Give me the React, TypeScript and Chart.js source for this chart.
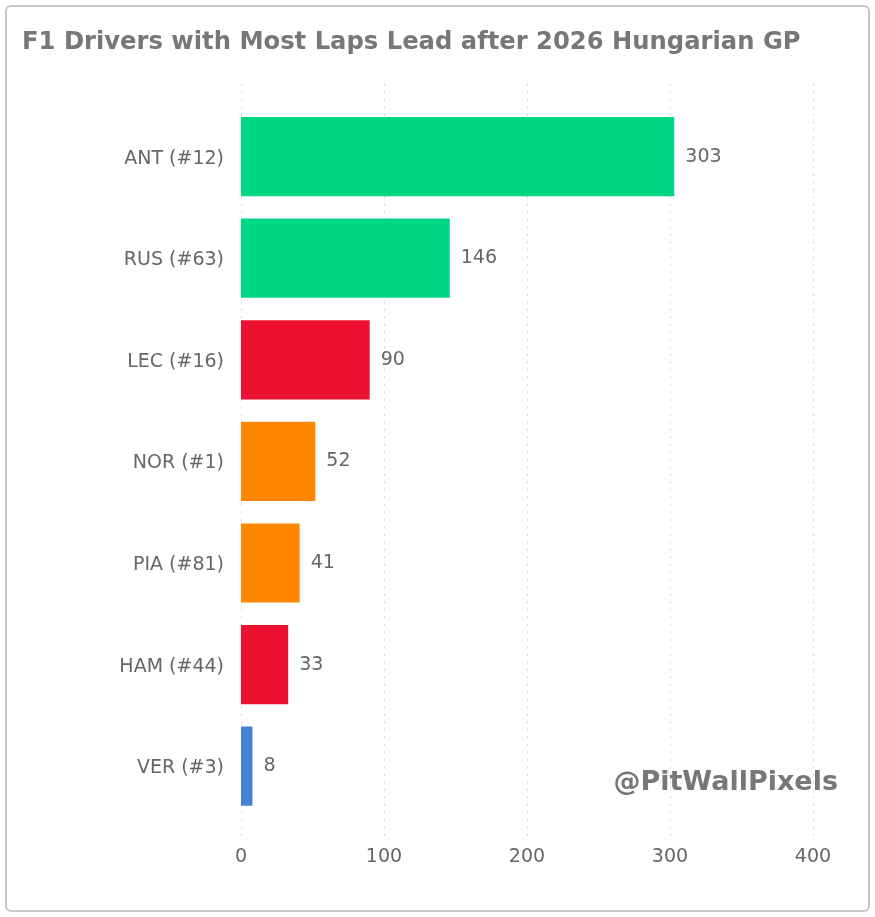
import { useEffect, useRef } from "react";
import { Chart, registerables } from "chart.js";

Chart.register(...registerables);

const chartTitle = "F1 Drivers with Most Laps Lead after 2026 Hungarian GP";
const watermarkText = "@PitWallPixels";
const drivers = ["ANT (#12)", "RUS (#63)", "LEC (#16)", "NOR (#1)", "PIA (#81)", "HAM (#44)", "VER (#3)"];
const lapsLed = [303, 146, 90, 52, 41, 33, 8];
const teamColors = ["#00D784", "#00D784", "#ED1131", "#FF8700", "#FF8700", "#ED1131", "#4781D7"];
const xTickValues = [0, 100, 200, 300, 400];

const FONT = "'DejaVu Sans', Verdana, sans-serif";

const dottedGrid = {
  id: "dottedGrid",
  beforeDatasetsDraw(chart: any) {
    const { ctx, chartArea, scales } = chart;
    ctx.save();
    ctx.strokeStyle = "#d4d4d4";
    ctx.lineWidth = 1;
    ctx.setLineDash([2, 5.5]);
    for (const v of xTickValues) {
      const x = Math.round(scales.x.getPixelForValue(v)) + 0.5;
      ctx.beginPath();
      ctx.moveTo(x, chartArea.top - 22);
      ctx.lineTo(x, chartArea.bottom + 22);
      ctx.stroke();
    }
    ctx.restore();
  },
};

const valueLabels = {
  id: "valueLabels",
  afterDatasetsDraw(chart: any) {
    const { ctx } = chart;
    const meta = chart.getDatasetMeta(0);
    ctx.save();
    ctx.font = `19px ${FONT}`;
    ctx.fillStyle = "#666666";
    ctx.textAlign = "left";
    ctx.textBaseline = "middle";
    meta.data.forEach((bar: any, i: number) => {
      ctx.fillText(String(lapsLed[i]), bar.x + 11, bar.y);
    });
    ctx.restore();
  },
};

const watermark = {
  id: "watermark",
  afterDraw(chart: any) {
    const { ctx, chartArea } = chart;
    ctx.save();
    ctx.font = `bold 27px ${FONT}`;
    ctx.fillStyle = "#777777";
    ctx.textAlign = "right";
    ctx.textBaseline = "middle";
    ctx.fillText(watermarkText, chartArea.right + 25, chartArea.bottom - 34);
    ctx.restore();
  },
};

export default function App() {
  const canvasRef = useRef<HTMLCanvasElement | null>(null);

  useEffect(() => {
    if (!canvasRef.current) return;
    const chart = new Chart(canvasRef.current, {
      type: "bar",
      data: {
        labels: drivers,
        datasets: [
          {
            data: lapsLed,
            backgroundColor: teamColors,
            borderWidth: 0,
            barPercentage: 0.78,
            categoryPercentage: 1,
          },
        ],
      },
      options: {
        indexAxis: "y",
        responsive: false,
        animation: false,
        devicePixelRatio: 1,
        layout: { padding: { left: 22, right: 62, top: 0, bottom: 0 } },
        plugins: {
          legend: { display: false },
          tooltip: { enabled: false },
          title: {
            display: true,
            text: chartTitle,
            align: "start",
            color: "#777777",
            font: { family: FONT, size: 24.25, weight: "bold" },
            padding: { top: 28, bottom: 48.7 },
          },
        },
        scales: {
          x: {
            type: "linear",
            position: "bottom",
            min: 0,
            max: 400,
            afterBuildTicks: (scale: any) => {
              scale.ticks = xTickValues.map((v) => ({ value: v }));
            },
            afterFit: (scale: any) => {
              scale.height = 100;
            },
            ticks: {
              color: "#666666",
              font: { family: FONT, size: 19 },
              padding: 29,
              maxRotation: 0,
            },
            grid: { display: false, drawTicks: false },
            border: { display: false },
          },
          y: {
            type: "category",
            afterFit: (scale: any) => {
              scale.width = 219;
            },
            ticks: {
              color: "#666666",
              font: { family: FONT, size: 19 },
              padding: 17,
              labelOffset: 2,
            },
            grid: { display: false, drawTicks: false },
            border: { display: false },
          },
        },
      },
      plugins: [dottedGrid, valueLabels, watermark],
    } as any);
    return () => chart.destroy();
  }, []);

  return (
    <div style={{ position: "fixed", left: 0, top: 0, width: 875, height: 917, background: "#fff" }}>
      <div
        style={{
          position: "absolute",
          left: 5,
          top: 5,
          width: 865,
          height: 907,
          boxSizing: "border-box",
          border: "2px solid #c6c6c6",
          borderRadius: 6,
        }}
      />
      <canvas
        ref={canvasRef}
        width={875}
        height={917}
        style={{ position: "absolute", left: 0, top: 0, width: 875, height: 917 }}
      />
    </div>
  );
}
